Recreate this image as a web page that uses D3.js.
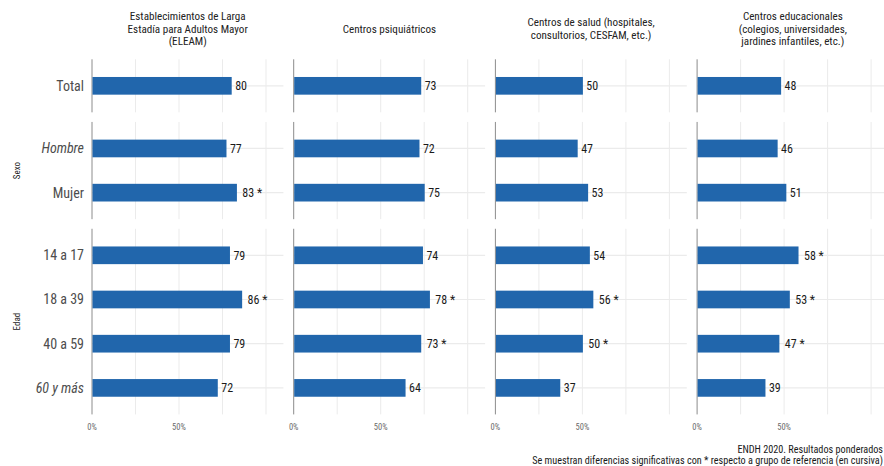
<!DOCTYPE html>
<html><head><meta charset="utf-8">
<script src="https://cdn.jsdelivr.net/npm/d3@7"></script>
<style>
body{margin:0;background:#fff;}
svg{display:block;font-family:"Roboto Condensed","Liberation Sans Narrow","Roboto",sans-serif;}
</style></head>
<body><svg id="c" width="884" height="466"></svg>
<script>
const panels = [
  ["Establecimientos de Larga","Estadía para Adultos Mayor","(ELEAM)"],
  ["Centros psiquiátricos"],
  ["Centros de salud (hospitales,","consultorios, CESFAM, etc.)"],
  ["Centros educacionales","(colegios, universidades,","jardines infantiles, etc.)"]
];
const groups = ["", "Sexo", "Edad"];
const categories = [
  ["Total"],
  ["Hombre","Mujer"],
  ["14 a 17","18 a 39","40 a 59","60 y más"]
];
const referenceCats = ["Hombre","60 y más"];
const valuesELEAM = [80, 77, 83, 79, 86, 79, 72];
const valuesPsiq  = [73, 72, 75, 74, 78, 73, 64];
const valuesSalud = [50, 47, 53, 54, 56, 50, 37];
const valuesEduc  = [48, 46, 51, 58, 53, 47, 39];
const sigELEAM = [0,0,1,0,1,0,0];
const sigPsiq  = [0,0,0,0,1,1,0];
const sigSalud = [0,0,0,0,1,1,0];
const sigEduc  = [0,0,0,1,1,1,0];
const tickLabels = ["0%","50%"];
const tickValues = [0,50];
const gridValues = [0,25,50,75,100];
const caption = ["ENDH 2020. Resultados ponderados","Se muestran diferencias significativas con * respecto a grupo de referencia (en cursiva)"];

const allValues = [valuesELEAM, valuesPsiq, valuesSalud, valuesEduc];
const allSig = [sigELEAM, sigPsiq, sigSalud, sigEduc];

(function(){
const svg = d3.select("#c");
const panelX0 = 92, panelW = 191.4, panelGap = 10.3;
const topY = 59.3, rowGap = 9.6, unit = 44.2;
const x = d3.scaleLinear().domain([0,110]).range([0,panelW]);
const barColor = "#2166ac";

let rows = [];
let yy = topY;
categories.forEach((cats,i)=>{
  const h = unit*(cats.length - 1 + 1.2);
  rows.push({y0:yy, h:h, cats:cats});
  yy += h + rowGap;
});

let idx0 = [];
let acc=0; categories.forEach(c=>{idx0.push(acc); acc+=c.length;});

panels.forEach((title,p)=>{
  const px = panelX0 + p*(panelW+panelGap);
  const g = svg.append("g").attr("transform",`translate(${px},0)`);
  const cx = panelW/2;
  const lh = 12.4;
  const startY = 28.7 - (title.length-1)*lh/2;
  title.forEach((t,k)=>{
    g.append("text").attr("x",cx).attr("y",startY+k*lh).attr("dy","0.35em")
     .attr("text-anchor","middle").attr("font-size",11.1).attr("fill","#222").text(t);
  });
  rows.forEach((r,ri)=>{
    const y = d3.scaleBand().domain(r.cats).range([r.y0+unit*0.6-unit/2, r.y0+r.h-unit*0.6+unit/2]).paddingInner(0).paddingOuter(0);
    const rg = g.append("g");
    rg.selectAll("line.v").data(gridValues.slice(1)).join("line")
      .attr("x1",d=>x(d)).attr("x2",d=>x(d)).attr("y1",r.y0).attr("y2",r.y0+r.h)
      .attr("stroke","#ebebeb").attr("stroke-width",1);
    rg.selectAll("line.h").data(r.cats).join("line")
      .attr("x1",0).attr("x2",panelW).attr("y1",d=>y(d)+y.bandwidth()/2).attr("y2",d=>y(d)+y.bandwidth()/2)
      .attr("stroke","#ebebeb").attr("stroke-width",1.2);
    rg.append("line").attr("x1",x(0)).attr("x2",x(0)).attr("y1",r.y0).attr("y2",r.y0+r.h)
      .attr("stroke","#8c8c8c").attr("stroke-width",1);
    const bw = unit*0.4;
    r.cats.forEach((c,ci)=>{
      const idx = idx0[ri]+ci;
      const v = allValues[p][idx];
      const s = allSig[p][idx];
      const cy = y(c)+y.bandwidth()/2;
      rg.append("rect").attr("x",x(0)+0.5).attr("y",cy-bw/2).attr("width",x(v)-x(0)).attr("height",bw)
        .attr("fill",barColor);
      const t = rg.append("text").attr("x",x(v)).attr("y",cy).attr("dy","0.35em")
        .attr("font-size",12).attr("fill","#1a1a1a").text(v + (s? " *":""));
      const w = t.node().getComputedTextLength();
      t.attr("x", x(v)+0.25*w+1);
    });
    if(p===0){
      r.cats.forEach(c=>{
        const cy = y(c)+y.bandwidth()/2;
        svg.append("text").attr("x",84).attr("y",cy).attr("dy","0.35em").attr("text-anchor","end")
          .attr("font-size",14).attr("fill","#4d4d4d")
          .attr("font-style", referenceCats.includes(c)?"italic":"normal").text(c);
      });
      if(groups[ri]){
        svg.append("text").attr("transform",`translate(17,${r.y0+r.h/2}) rotate(-90)`)
          .attr("text-anchor","middle").attr("dy","0.35em").attr("font-size",9).attr("fill","#222").text(groups[ri]);
      }
    }
  });
  const lastRow = rows[rows.length-1];
  g.selectAll("text.tick").data(tickValues).join("text")
    .attr("x",d=>x(d)).attr("y",lastRow.y0+lastRow.h+13).attr("dy","0.35em")
    .attr("text-anchor","middle").attr("font-size",8.5).attr("fill","#6b6b6b")
    .text((d,i)=>tickLabels[i]);
});

const rightEdge = 883;
caption.forEach((c,k)=>{
  svg.append("text").attr("x",rightEdge).attr("y",449+k*11).attr("dy","0.35em")
    .attr("text-anchor","end").attr("font-size",10.2).attr("fill","#1a1a1a").text(c);
});
})();
</script></body></html>
